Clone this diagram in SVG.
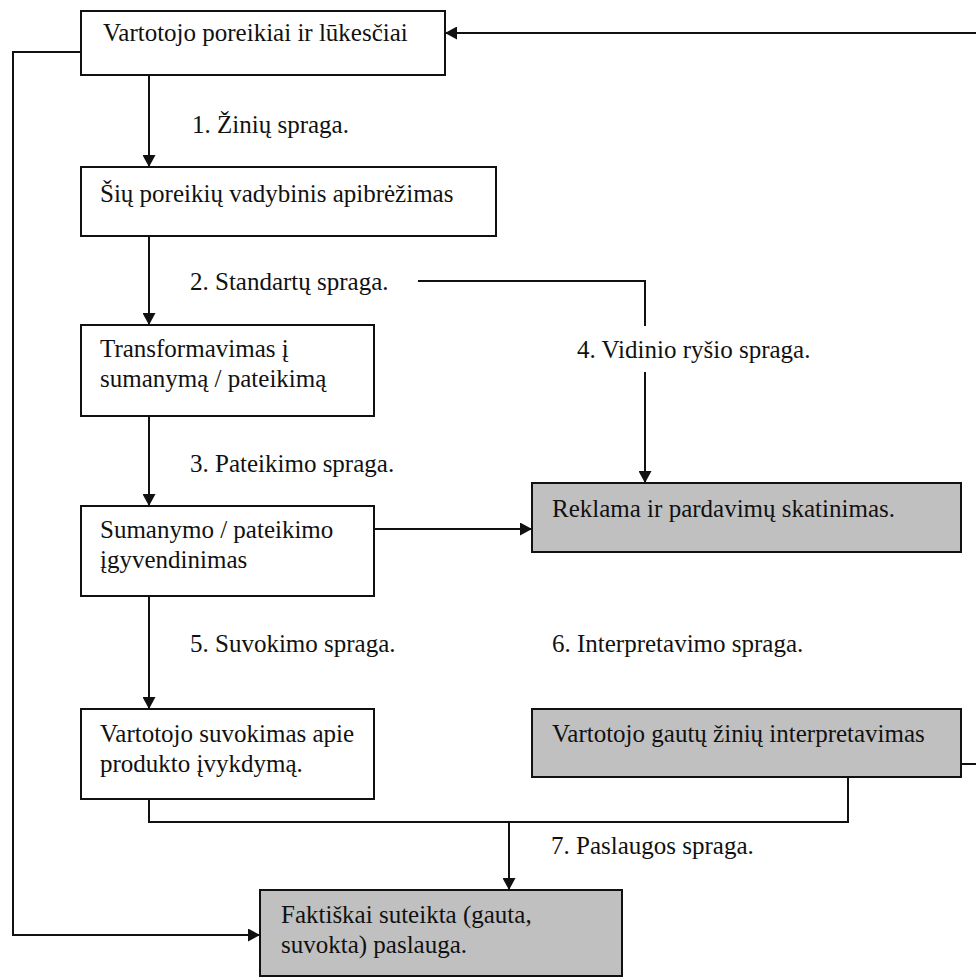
<svg xmlns="http://www.w3.org/2000/svg" width="976" height="978" viewBox="0 0 976 978">
  <style>
    .box { fill: #ffffff; stroke: #111111; stroke-width: 2; }
    .shaded { fill: #c0c0c0; stroke: #111111; stroke-width: 2; }
    .txt { font-family: 'Liberation Serif', 'Times New Roman', serif; font-size: 25px; fill: #111111; }
    .wire { fill: none; stroke: #111111; stroke-width: 2; }
    .arrow { fill: none; stroke: #111111; stroke-width: 2; marker-end: url(#head); }
  </style>
  <defs>
    <marker id="head" markerWidth="12" markerHeight="13" refX="12" refY="6.5" orient="auto" markerUnits="userSpaceOnUse">
      <path d="M0,0 L12,6.5 L0,13 Z" fill="#111111"/>
    </marker>
  </defs>

  <rect width="976" height="978" fill="#ffffff"/>

  <!-- connectors -->
  <g id="connectors">
    <path class="arrow" d="M976,33 H445"/>
    <path class="arrow" d="M81,52 H13 V935 H260"/>
    <path class="arrow" d="M149,75 V167"/>
    <path class="arrow" d="M149,236 V325"/>
    <path class="wire" d="M418,281 H645 V326"/>
    <path class="arrow" d="M645,372 V483"/>
    <path class="arrow" d="M149,416 V506"/>
    <path class="arrow" d="M374,529 H532"/>
    <path class="arrow" d="M149,596 V709"/>
    <path class="wire" d="M961,764 H976"/>
    <path class="wire" d="M149,799 V822 H848 V777"/>
    <path class="arrow" d="M509,822 V890"/>
  </g>

  <!-- gap labels -->
  <g id="labels">
    <text class="txt" x="192" y="133">1. Žinių spraga.</text>
    <text class="txt" x="190" y="290">2. Standartų spraga.</text>
    <text class="txt" x="190" y="472">3. Pateikimo spraga.</text>
    <text class="txt" x="577" y="358">4. Vidinio ryšio spraga.</text>
    <text class="txt" x="190" y="652">5. Suvokimo spraga.</text>
    <text class="txt" x="552" y="652">6. Interpretavimo spraga.</text>
    <text class="txt" x="551" y="854">7. Paslaugos spraga.</text>
  </g>

  <!-- nodes -->
  <g id="needs">
    <rect class="box" x="81" y="11" width="364" height="64"/>
    <text class="txt" x="103" y="41">Vartotojo poreikiai ir lūkesčiai</text>
  </g>
  <g id="definition">
    <rect class="box" x="81" y="167" width="415" height="69"/>
    <text class="txt" x="100" y="202">Šių poreikių vadybinis apibrėžimas</text>
  </g>
  <g id="transform">
    <rect class="box" x="81" y="325" width="293" height="91"/>
    <text class="txt" x="100" y="357">Transformavimas į</text>
    <text class="txt" x="100" y="387">sumanymą / pateikimą</text>
  </g>
  <g id="implementation">
    <rect class="box" x="81" y="506" width="293" height="90"/>
    <text class="txt" x="100" y="538">Sumanymo / pateikimo</text>
    <text class="txt" x="100" y="568">įgyvendinimas</text>
  </g>
  <g id="perception">
    <rect class="box" x="81" y="709" width="293" height="90"/>
    <text class="txt" x="100" y="742">Vartotojo suvokimas apie</text>
    <text class="txt" x="100" y="772">produkto įvykdymą.</text>
  </g>
  <g id="advertising">
    <rect class="shaded" x="532" y="483" width="429" height="69"/>
    <text class="txt" x="552" y="517">Reklama ir pardavimų skatinimas.</text>
  </g>
  <g id="interpretation">
    <rect class="shaded" x="532" y="709" width="429" height="68"/>
    <text class="txt" x="552" y="742">Vartotojo gautų žinių interpretavimas</text>
  </g>
  <g id="delivered">
    <rect class="shaded" x="260" y="890" width="362" height="86"/>
    <text class="txt" x="281" y="923">Faktiškai suteikta (gauta,</text>
    <text class="txt" x="281" y="953">suvokta) paslauga.</text>
  </g>
</svg>
